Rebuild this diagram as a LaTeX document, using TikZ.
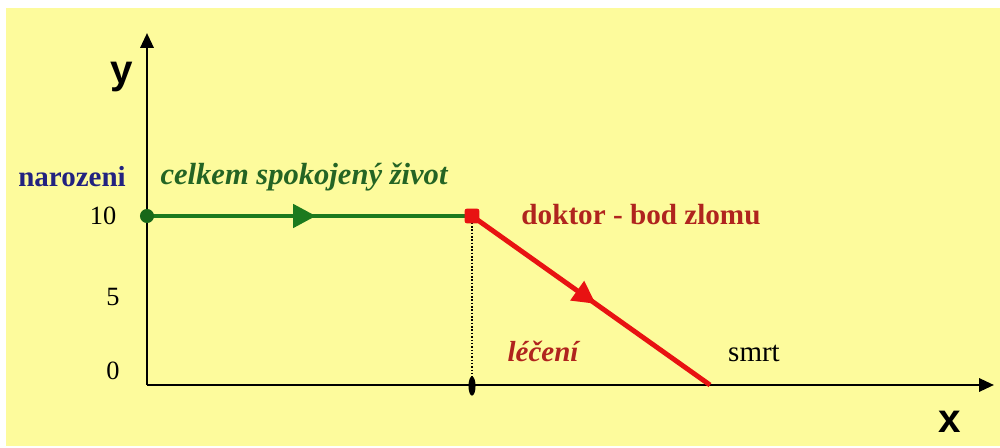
\documentclass[tikz,border=0pt]{standalone}
\usepackage{fontspec}
\setmainfont{Liberation Serif}
\setsansfont{Liberation Sans}
\usetikzlibrary{arrows.meta,positioning,decorations.markings,shapes.geometric}
\definecolor{bgyellow}{RGB}{253,251,156}
\definecolor{lifegreen}{RGB}{28,122,30}
\definecolor{lifetext}{RGB}{36,100,36}
\definecolor{birthblue}{RGB}{34,34,128}
\definecolor{docred}{RGB}{176,36,30}
\definecolor{linered}{RGB}{232,18,18}

\begin{document}
\begin{tikzpicture}[x=0.02cm,y=-0.02cm,
  ax/.style={line width=1.5pt,-{Triangle[length=8.5pt,width=7.5pt]}},
  lab/.style={anchor=base,font=\fontsize{16.5}{19}\selectfont},
  num/.style={anchor=base,font=\fontsize{15}{17}\selectfont},
  axlab/.style={anchor=base,font=\sffamily\bfseries\fontsize{23}{26}\selectfont},
  midarrow/.style={postaction={decorate},decoration={markings,
    mark=at position #1 with {\arrow{Triangle[length=13pt,width=13pt]}}}}]
\useasboundingbox (0,0) rectangle (1000,448);
\fill[bgyellow] (6,8) rectangle (1000,446);
% points of the curve
\coordinate (O) at (147,385);
\coordinate (ytip) at (147,33);
\coordinate (xtip) at (994,385);
\coordinate (birth) at (147,216);
\coordinate (doctor) at (472,216);
\coordinate (death) at (710,385);
\coordinate (foot) at (472,386);
% axes
\draw[ax] (O) -- (ytip);
\draw[ax] (O) -- (xtip);
\draw[densely dotted,line width=0.9pt] (doctor) -- (foot);
% life line
\draw[lifegreen,line width=2.8pt,midarrow=0.52] (birth) -- (doctor);
\draw[linered,line width=2.8pt,midarrow=0.52] (doctor) -- (death);
\node[circle,fill=lifegreen!85!black,inner sep=0pt,minimum size=8pt] (birthdot) at (birth) {};
\node[rectangle,fill=linered,rounded corners=1.5pt,inner sep=0pt,minimum size=8.5pt] (docdot) at (doctor) {};
\node[ellipse,fill=black,inner sep=0pt,minimum width=4pt,minimum height=11pt] (footdot) at (foot) {};
% labels
\node[axlab] (ylab) at (122,84) {y};
\node[axlab] (xlab) at (950,433) {x};
\node[num] (n10) at (103,225) {10};
\node[num] (n5) at (113,306) {5};
\node[num] (n0) at (113,380) {0};
\node[lab,birthblue,font=\bfseries\fontsize{16.5}{19}\selectfont] (narozeni) at (72,187) {narozeni};
\node[lab,lifetext,font=\bfseries\itshape\fontsize{17.4}{19}\selectfont] (zivot) at (304,185) {celkem spokojený život};
\node[lab,docred,font=\bfseries\fontsize{16.6}{19}\selectfont] (zlom) at (641,225) {doktor - bod zlomu};
\node[lab,docred,font=\bfseries\itshape\fontsize{16.5}{19}\selectfont] (leceni) at (543,362) {léčení};
\node[lab] (smrt) at (754,362) {smrt};
\end{tikzpicture}
\end{document}
